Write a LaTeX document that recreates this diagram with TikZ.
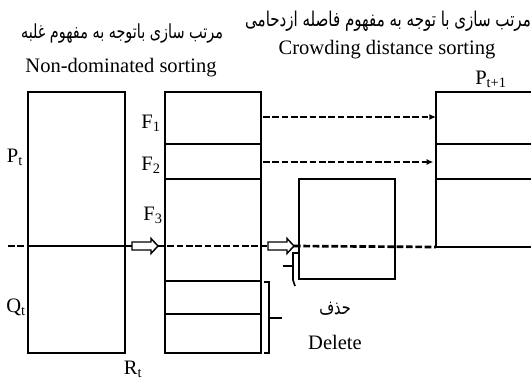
\documentclass[tikz,border=0pt]{standalone}
\usepackage{fontspec}
\setmainfont{Liberation Serif}
\newfontfamily\arabicfont[Script=Arabic]{DejaVu Sans}
\TeXXeTstate=1
\usetikzlibrary{arrows.meta,fit}

\tikzset{
	box/.style={draw, line width=1.8pt, inner sep=0pt, outer sep=0pt},
	part/.style={line width=1.8pt},
	dashline/.style={line width=2pt, dash pattern=on 5pt off 2pt},
	lbl/.style={font=\fontsize{15.4}{18}\selectfont, inner sep=0pt},
	fa/.style={font=\arabicfont\fontsize{10.8}{14}\selectfont, inner sep=0pt},
	hollow/.style={draw, line width=1.1pt, fill=white},
	brk/.style={line width=1.2pt},
}
\newcommand{\fatext}[1]{\scalebox{1}[1.35]{\beginR #1\endR}}

\begin{document}
\begin{tikzpicture}[x=0.75pt, y=-0.75pt]
			\useasboundingbox (0,0) rectangle (531,381);

			\node[fa] (fa1) at (122,33) {\fatext{مرتب سازی باتوجه به مفهوم غلبه}};
			\node[lbl] (nd) at (121,68) {Non-dominated sorting};
			\node[fa, font=\arabicfont\fontsize{11.3}{14}\selectfont] (fa2) at (388,21) {\fatext{مرتب سازی با توجه به مفهوم فاصله ازدحامی}};
			\node[lbl] (cd) at (387,50) {Crowding distance sorting};

			\node[box, fit={(28,92) (125,353)}] (R) {};
			\node[box, fit={(165,92) (261,353)}] (F) {};
			\node[box, fit={(299,179) (395,279)}] (C) {};
			\node[box, fit={(436,92) (545,247)}] (P) {};

			\node[lbl] (Pt) at (15,157) {P\textsubscript{t}};
			\node[lbl] (Qt) at (16,307) {Q\textsubscript{t}};
			\node[lbl] (Rt) at (133,369) {R\textsubscript{t}};
			\node[lbl] (F1) at (151,123) {F\textsubscript{1}};
			\node[lbl] (F2) at (151,165) {F\textsubscript{2}};
			\node[lbl] (F3) at (153,215) {F\textsubscript{3}};
			\node[lbl] (Pt1) at (491,79) {P\textsubscript{t+1}};
			\node[fa] (hazf) at (335,309) {\fatext{حذف}};
			\node[lbl] (del) at (335,342) {Delete};

			% fronts
			\foreach \y in {144, 179, 281, 314} {
				\coordinate (h) at (0,\y);
				\draw[part] (F.west |- h) -- (F.east |- h);
			}
			\foreach \y in {144, 179} {
				\coordinate (h) at (0,\y);
				\draw[part] (P.west |- h) -- (P.east |- h);
			}

			\coordinate (f1) at (263,117);
			\coordinate (f2) at (263,162);
			\coordinate (cut) at (0,246);
			\coordinate (cutL) at (8,246);
			\coordinate (a1) at (132,246);
			\coordinate (a1e) at (158,246);
			\coordinate (a2) at (268,246);
			\coordinate (a2e) at (294,246);

			\draw[dashline, -{Latex[length=5pt,width=4.5pt]}] (f1) -- (P.west |- f1);
			\draw[dashline, -{Latex[length=5pt,width=4.5pt]}] (f2) -- ([xshift=-2pt]P.west |- f2);

			\draw[dashline] (cutL) -- (R.west |- cut);
			\draw[part] (R.west |- cut) -- (R.east |- cut);
			\draw[dashline] (R.east |- cut) -- (a1);
			\draw[dashline] (a1e) -- (a2);
			\draw[dashline] (a2e) -- (P.south west);

			\foreach \s in {a1, a2}
			\draw[hollow] (\s) ++(0,-4) -- ++(19,0) -- ++(0,-3.5) -- ++(7,7.5)
				-- ++(-7,7.5) -- ++(0,-3.5) -- ++(-19,0) -- cycle;

			% brackets
			\draw[brk] (264,282) -- (269,282) -- (269,353) -- (264,353);
			\draw[brk] (269,318) -- (282,318);
			\draw[brk] (298,253) -- (293,253) -- (293,280) -- (295,286);
			\draw[brk] (293,266) -- (283,266);
		\end{tikzpicture}
\end{document}
